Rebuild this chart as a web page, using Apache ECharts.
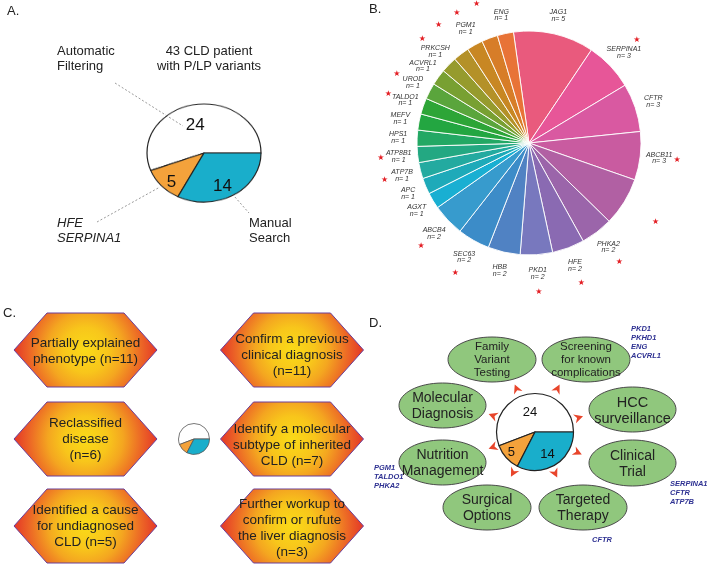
<!DOCTYPE html>
<html><head><meta charset="utf-8">
<script src="https://cdn.jsdelivr.net/npm/echarts@6/dist/echarts.min.js"></script>
<style>
html,body{margin:0;padding:0;background:#fff;}
#wrap{position:relative;width:708px;height:565px;overflow:hidden;}
#pa{position:absolute;left:134px;top:83px;width:140px;height:140px;transform:scaleY(0.86);transform-origin:50% 50%;z-index:0;}
#main{position:absolute;left:0;top:0;width:708px;height:565px;z-index:1;}
</style></head>
<body><div id="wrap"><div id="pa"></div><div id="main"></div></div>
<script>
// ---- data ----
var aCategories = ['Automatic Filtering', 'HFE / SERPINA1', 'Manual Search'];
var aValues = [24, 5, 14];
var aColors = ['#FFFFFF', '#F4A23B', '#19AECB'];

var bGenes = ['JAG1','SERPINA1','CFTR','ABCB11','GANAB','PHKA2','HFE','PKD1','HBB','SEC63','ABCB4','AGXT','APC','ATP7B','ATP8B1','HPS1','MEFV','TALDO1','UROD','ACVRL1','PRKCSH','PKHD1','PGM1','HNF1A','ENG'];
var bCounts = [5,3,3,3,3,2,2,2,2,2,2,1,1,1,1,1,1,1,1,1,1,1,1,1,1];
var bStarred = ['JAG1','SERPINA1','ABCB11','GANAB','PHKA2','HFE','PKD1','SEC63','ABCB4','ATP7B','ATP8B1','TALDO1','UROD','PRKCSH','PKHD1','PGM1','HNF1A'];
var bColors = ['#E95A7D','#E75698','#D959A1','#C95BA0','#B160A3','#9B65AA','#8A6AB2','#7878BE','#5082C3','#3C8CC8','#379BCD','#19AFD2','#1EAAB9','#23AAA0','#23A882','#23A864','#23A641','#2DA537','#5AA53C','#78A032','#969B2D','#B49128','#C88723','#D77D28','#E87337'];

var cLeft = ['Partially explained\nphenotype (n=11)', 'Reclassified\ndisease\n(n=6)', 'Identified a cause\nfor undiagnosed\nCLD (n=5)'];
var cRight = ['Confirm a previous\nclinical diagnosis\n(n=11)', 'Identify a molecular\nsubtype of inherited\nCLD (n=7)', 'Further workup to\nconfirm or rufute\nthe liver diagnosis\n(n=3)'];

var dNodes = ['Family\nVariant\nTesting', 'Screening\nfor known\ncomplications', 'Molecular\nDiagnosis', 'HCC\nsurveillance', 'Nutrition\nManagement', 'Clinical\nTrial', 'Surgical\nOptions', 'Targeted\nTherapy'];
var dGenesScreening = ['PKD1','PKHD1','ENG','ACVRL1'];
var dGenesNutrition = ['PGM1','TALDO1','PHKA2'];
var dGenesTrial = ['SERPINA1','CFTR','ATP7B'];
var dGenesTargeted = ['CFTR'];

// ---- styling / layout ----
var FONT = 'Liberation Sans, Arial, sans-serif';
function pieData(names, values, colors) {
  return values.map(function (v, i) {
    return { name: names[i], value: v, itemStyle: colors ? { color: colors[i] } : undefined };
  });
}
var G = [];
function txt(x, y, s, o) {
  o = o || {};
  G.push({
    type: 'text', x: x, y: y, silent: true, z: 100,
    style: {
      text: s, fill: o.fill || '#222', fontSize: o.size || 13, fontFamily: o.family || FONT,
      fontStyle: o.style || 'normal', fontWeight: o.weight || 'normal',
      align: o.align || 'left', textAlign: o.align || 'left',
      verticalAlign: 'middle', textVerticalAlign: 'middle', lineHeight: o.lh || 16
    }
  });
}
// panel letters
txt(7, 11, 'A.', { size: 13 });
txt(369, 9, 'B.', { size: 13 });
txt(3, 313, 'C.', { size: 13 });
txt(369, 323, 'D.', { size: 13 });

// panel A texts
txt(57, 59, 'Automatic\nFiltering', { size: 13, lh: 15 });
txt(209, 59, '43 CLD patient\nwith P/LP variants', { size: 13, lh: 15, align: 'center' });
txt(57, 231, 'HFE\nSERPINA1', { size: 13, lh: 15, style: 'italic' });
txt(249, 231, 'Manual\nSearch', { size: 13, lh: 15 });
function dline(x1, y1, x2, y2) {
  G.push({ type: 'line', silent: true, shape: { x1: x1, y1: y1, x2: x2, y2: y2 },
    style: { stroke: '#808080', lineWidth: 0.8, lineDash: [2, 2] } });
}
dline(115, 83, 183, 126);
dline(97, 222, 160, 187);
dline(227, 188, 249, 213);

// panel C hexagons
function hex(cx, cy, label, textCy) {
  var w = 71.5, c = 38.5, h = 37;
  G.push({
    type: 'polygon', silent: true,
    shape: { points: [[cx - w, cy], [cx - c, cy - h], [cx + c, cy - h], [cx + w, cy], [cx + c, cy + h], [cx - c, cy + h]] },
    style: {
      fill: new echarts.graphic.RadialGradient(0.5, 0.5, 1.0, [
        { offset: 0, color: '#FADA18' }, { offset: 0.3, color: '#F8C61B' },
        { offset: 0.5, color: '#F4A620' }, { offset: 0.75, color: '#EC6626' }, { offset: 1, color: '#E22B28' }
      ]),
      stroke: '#6B3E99', lineWidth: 1
    }
  });
  txt(cx, textCy, label, { size: 13.5, lh: 16, align: 'center' });
}
var rowY = [350, 439, 526];
hex(85.5, rowY[0], cLeft[0], 351);
hex(85.5, rowY[1], cLeft[1], 439);
hex(85.5, rowY[2], cLeft[2], 526);
hex(292, rowY[0], cRight[0], 355);
hex(292, rowY[1], cRight[1], 445);
hex(292, rowY[2], cRight[2], 528);

// panel D ellipses
var ell = [
  [492, 359.5, 44, 22.5, 11.5, 13],
  [586, 359.5, 44, 22.5, 11.5, 13],
  [442.5, 405.5, 43.5, 22.5, 14, 16],
  [632.5, 409.5, 43.5, 22.5, 14.5, 16],
  [442.5, 462.5, 43.5, 22.5, 14, 16],
  [632.5, 463, 43.5, 23, 14, 16],
  [487, 507.5, 44, 22.5, 14, 16],
  [583, 507.5, 44, 22.5, 14, 16]
];
ell.forEach(function (e, i) {
  G.push({ type: 'ellipse', silent: true, shape: { cx: e[0], cy: e[1], rx: e[2], ry: e[3] },
    style: { fill: '#90C77D', stroke: '#4A4A4A', lineWidth: 1 } });
  txt(e[0], e[1] + (i < 2 ? 0 : 1), dNodes[i], { size: e[4], lh: e[5], align: 'center' });
});
var blue = { size: 7.5, lh: 9, style: 'italic', weight: 'bold', fill: '#2E3192' };
txt(631, 342.5, dGenesScreening.join('\n'), blue);
txt(374, 477, dGenesNutrition.join('\n'), blue);
txt(670, 492.5, dGenesTrial.join('\n'), blue);
txt(592, 540, dGenesTargeted.join('\n'), blue);

// arrows around D pie
var dC = [535, 432];
var arrows = [[516.7, 389], [557.3, 389], [493.3, 415.7], [578.3, 417.7], [493.3, 447], [577.3, 452.3], [513.3, 472.3], [555, 473]];
arrows.forEach(function (a) {
  var th = Math.atan2(a[1] - dC[1], a[0] - dC[0]);
  var loc = [[5, 0], [-4, -4.6], [-1.3, 0], [-4, 4.6]];
  var pts = loc.map(function (p) {
    return [a[0] + p[0] * Math.cos(th) - p[1] * Math.sin(th), a[1] + p[0] * Math.sin(th) + p[1] * Math.cos(th)];
  });
  G.push({ type: 'polygon', silent: true, shape: { points: pts }, style: { fill: '#E8452B' } });
});

var clear = { color: 'rgba(0,0,0,0)' };
var noEmph = { disabled: true };
var main = echarts.init(document.getElementById('main'), null, { renderer: 'canvas' });
main.setOption({
  backgroundColor: 'transparent',
  animation: false,
  graphic: { elements: G },
  series: [
    { // panel A labels (pie drawn squashed underneath)
      type: 'pie', center: [204, 153], radius: 57, startAngle: 0, clockwise: false, silent: true,
      emphasis: noEmph, itemStyle: clear, labelLine: { show: false },
      data: aValues.map(function (v, i) {
        var off = [[-3, 3], [-9, 8], [2, 6]][i];
        return { name: aCategories[i], value: v, label: { offset: off } };
      }),
      label: { position: 'inside', formatter: '{c}', fontSize: 17, color: '#111', fontFamily: FONT }
    },
    { // panel B pie
      type: 'pie', center: [529, 143], radius: 112, startAngle: 98, silent: true, emphasis: noEmph,
      data: pieData(bGenes, bCounts, bColors),
      itemStyle: { borderColor: '#fff', borderWidth: 0.9 }, label: { show: false }, labelLine: { show: false }
    },
    { // panel B gene labels
      type: 'pie', center: [529, 143], radius: [122, 134], startAngle: 98, silent: true, emphasis: noEmph,
      avoidLabelOverlap: false, data: pieData(bGenes, bCounts), itemStyle: clear, labelLine: { show: false },
      label: { position: 'inside', formatter: '{b}\nn= {c}', fontSize: 7, lineHeight: 6.5, fontStyle: 'italic',
        color: '#333', fontFamily: FONT, overflow: 'none' }
    },
    { // panel B stars
      type: 'pie', center: [529, 143], radius: [140, 152], startAngle: 98, silent: true, emphasis: noEmph,
      avoidLabelOverlap: false, data: pieData(bGenes, bCounts), itemStyle: clear, labelLine: { show: false },
      label: { position: 'inside', formatter: function (p) { return bStarred.indexOf(p.name) >= 0 ? '★' : ''; },
        fontSize: 8, color: '#E31E24', fontFamily: 'DejaVu Sans' }
    },
    { // panel C small pie
      type: 'pie', center: [194, 439], radius: 15.5, startAngle: 0, clockwise: false, silent: true, emphasis: noEmph,
      data: pieData(aCategories, aValues, aColors), itemStyle: { borderColor: '#555', borderWidth: 0.8 },
      label: { show: false }, labelLine: { show: false }
    },
    { // panel D pie
      type: 'pie', center: [535, 432], radius: 38.5, startAngle: 0, clockwise: false, silent: true, emphasis: noEmph,
      data: aValues.map(function (v, i) {
        var off = [[-1, 2], [-7, 6], [1, 3]][i];
        return { name: aCategories[i], value: v, itemStyle: { color: aColors[i] }, label: { offset: off } };
      }),
      itemStyle: { borderColor: '#222', borderWidth: 1.2 }, labelLine: { show: false },
      label: { position: 'inside', formatter: '{c}', fontSize: 13, color: '#111', fontFamily: FONT }
    }
  ]
});

var pa = echarts.init(document.getElementById('pa'), null, { renderer: 'canvas' });
pa.setOption({
  animation: false,
  series: [{
    type: 'pie', center: ['50%', '50%'], radius: 57, startAngle: 0, clockwise: false, silent: true,
    emphasis: { disabled: true }, data: pieData(aCategories, aValues, aColors),
    itemStyle: { borderColor: '#222', borderWidth: 1.2 }, label: { show: false }, labelLine: { show: false }
  }]
});
</script></body></html>
